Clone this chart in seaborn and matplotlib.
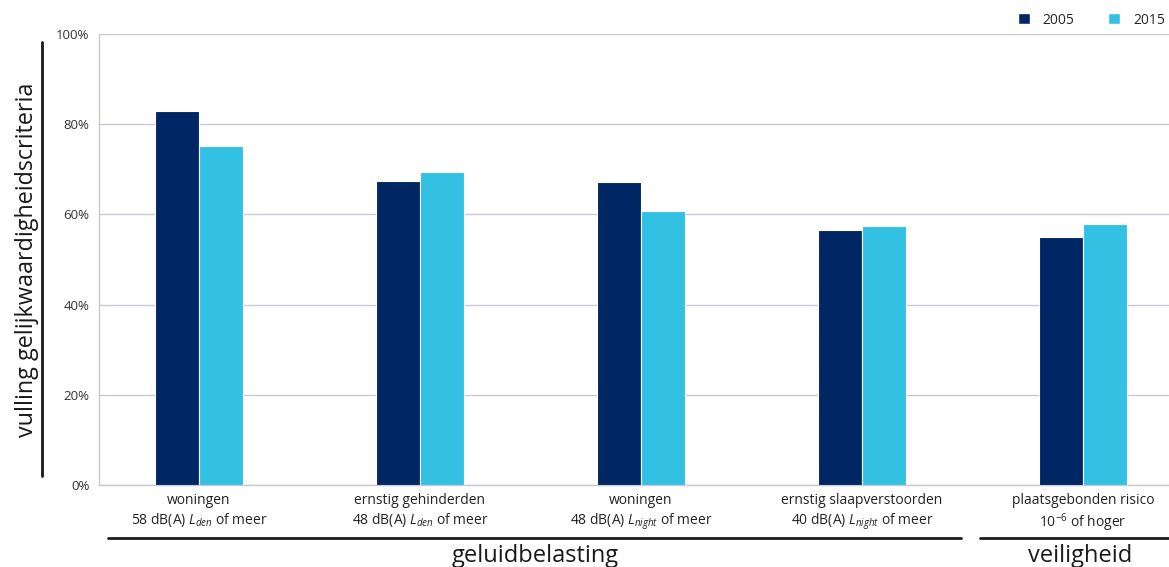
import numpy as np
import pandas as pd
import seaborn as sns
import matplotlib.pyplot as plt
from matplotlib.patches import Patch

categories = [
    "woningen\n58 dB(A) $L_{den}$ of meer",
    "ernstig gehinderden\n48 dB(A) $L_{den}$ of meer",
    "woningen\n48 dB(A) $L_{night}$ of meer",
    "ernstig slaapverstoorden\n40 dB(A) $L_{night}$ of meer",
    "plaatsgebonden risico\n10$^{-6}$ of hoger",
]
years = ["2005", "2015"]
values_2005 = [82.9, 67.4, 67.2, 56.5, 55.0]
values_2015 = [75.2, 69.4, 60.8, 57.4, 57.9]
yticks = [0, 20, 40, 60, 80, 100]
groups = ["geluidbelasting", "veiligheid"]

df = pd.DataFrame({
    "cat": categories * 2,
    "jaar": [years[0]] * 5 + [years[1]] * 5,
    "val": values_2005 + values_2015,
})

sns.set_style("white")
plt.rcParams["font.family"] = ["Open Sans", "DejaVu Sans"]
plt.rcParams["mathtext.fontset"] = "custom"
plt.rcParams["mathtext.rm"] = "Open Sans"
plt.rcParams["mathtext.it"] = "Open Sans:italic"

palette = {"2005": "#012664", "2015": "#33c1e3"}
grid_c = "#c9c9d6"

fig = plt.figure(figsize=(11.69, 5.67), dpi=100)
ax = fig.add_axes([99 / 1169, 82 / 567, 1 - 99 / 1169, (485 - 34) / 567])

sns.barplot(data=df, x="cat", y="val", hue="jaar", palette=palette, width=0.4,
            saturation=1, edgecolor="white", linewidth=0.8, ax=ax, legend=False, zorder=3)

ax.set_xlim(-0.4525, 4.39)
ax.set_ylim(0, 100)
ax.set_yticks(yticks)
ax.set_yticklabels([f"{t}%" for t in yticks], fontsize=9.5, color="#333333")
ax.yaxis.grid(True, color=grid_c, linewidth=1, zorder=0)
ax.set_axisbelow(True)
for s in ["top", "right"]:
    ax.spines[s].set_visible(False)
ax.spines["left"].set_color(grid_c)
ax.spines["bottom"].set_color(grid_c)
ax.spines["left"].set_linewidth(1)
ax.spines["bottom"].set_linewidth(1)
ax.tick_params(axis="both", length=0, pad=7)
ax.tick_params(axis="x", labelsize=10, labelcolor="#222222", pad=6)
ax.set_xlabel("")
ax.set_ylabel("")

# group lines and labels
tr = ax.get_xaxis_transform()
spans = [(-0.41, 3.45), (3.534, 4.45)]
label_x = [1.52, 3.99]
for (x0, x1), lx, g in zip(spans, label_x, groups):
    ax.plot([x0, x1], [-0.1175, -0.1175], color="#1a1a1a", linewidth=2,
            transform=tr, clip_on=False)
    ax.text(lx, -0.158, g, transform=tr, ha="center", va="center",
            fontsize=17, color="#1a1a1a")

# y label with bar
fig.text(27 / 1169, 1 - 260 / 567, "vulling gelijkwaardigheidscriteria", rotation=90,
         ha="center", va="center", fontsize=16.8, color="#1a1a1a")
fig.add_artist(plt.Line2D([42 / 1169, 42 / 1169], [1 - 476 / 567, 1 - 42 / 567],
                          color="#1a1a1a", linewidth=2))

handles = [Patch(facecolor=palette[y], label=y) for y in years]
fig.legend(handles=handles, loc="center right", bbox_to_anchor=(1.0, 1 - 20 / 567),
           ncol=2, frameon=False, fontsize=10, handlelength=0.9, handleheight=0.9,
           columnspacing=2.4, handletextpad=0.9, borderpad=0.1, borderaxespad=0.2)

fig.savefig("out.png", dpi=100)
